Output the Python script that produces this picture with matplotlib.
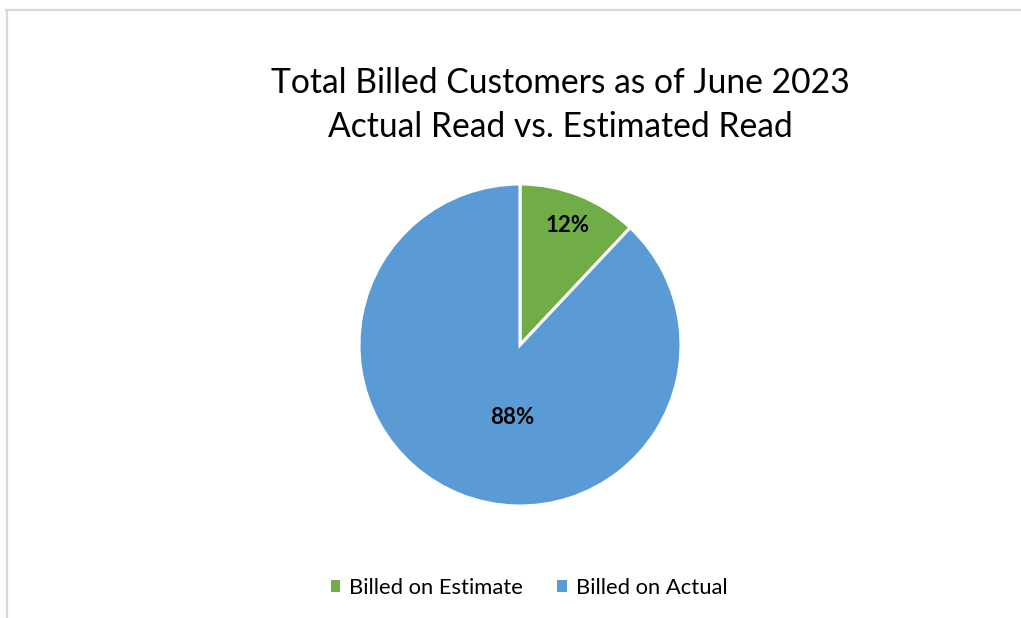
import matplotlib; matplotlib.use("Agg")
import matplotlib.pyplot as plt
from matplotlib.patches import Patch
from matplotlib.lines import Line2D

labels = ["Billed on Estimate", "Billed on Actual"]
shares = [12, 88]
colors = ["#70AD47", "#5B9BD5"]
title_lines = ["Total Billed Customers as of June 2023", "Actual Read vs. Estimated Read"]

plt.rcParams["font.family"] = ["Lato", "DejaVu Sans"]

W, H = 1021, 618
fig = plt.figure(figsize=(W / 100, H / 100), dpi=100)

# light grey chart frame (top + left edges visible in the crop)
fig.add_artist(Line2D([6 / W, 1], [1 - 9.5 / H] * 2, color="#d9d9d9", lw=1.6))
fig.add_artist(Line2D([6.5 / W] * 2, [0, 1 - 9.5 / H], color="#d9d9d9", lw=1.6))

cx, cy, r = 520, 345, 161
ax = fig.add_axes([(cx - r) / W, (H - cy - r) / H, 2 * r / W, 2 * r / H])
wedges, texts, auto = ax.pie(shares, colors=colors, startangle=90, counterclock=False,
                             autopct="%d%%", pctdistance=0.8,
                             wedgeprops=dict(edgecolor="white", linewidth=2.2),
                             textprops=dict(fontsize=16, fontweight="bold", color="black"))
auto[1].set_position((-0.05, -0.45))
ax.set_xlim(-1, 1); ax.set_ylim(-1, 1)

fig.text(560 / W, 1 - 83 / H, title_lines[0], ha="center", va="center", fontsize=24.2)
fig.text(560 / W, 1 - 127 / H, title_lines[1], ha="center", va="center", fontsize=24.2)

handles = [Patch(facecolor=c, edgecolor="none") for c in colors]
fig.legend(handles, labels, loc="center", bbox_to_anchor=(529 / W, 1 - 588 / H), ncol=2,
           frameon=False, fontsize=15.8, handlelength=0.45, handleheight=0.45,
           handletextpad=0.4, columnspacing=1.55)

fig.savefig("out.png", dpi=100)
